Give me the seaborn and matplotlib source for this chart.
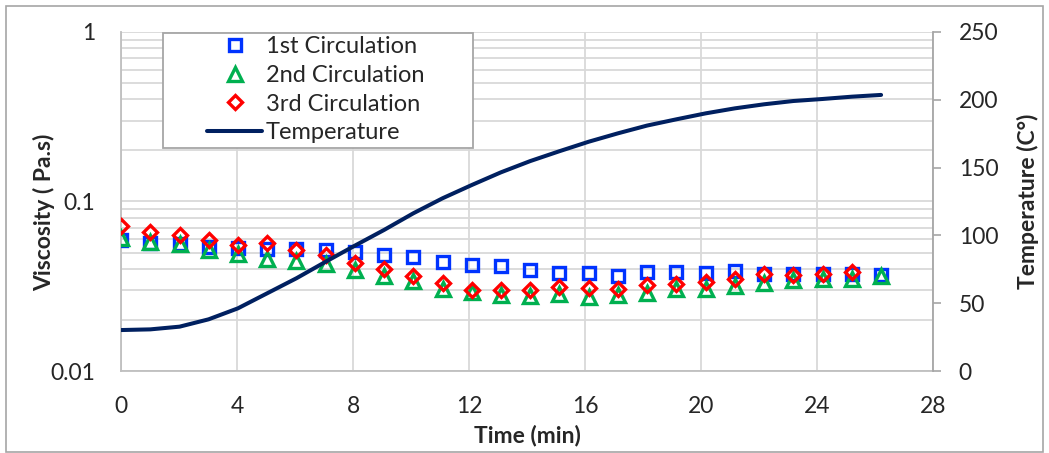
import matplotlib
matplotlib.use("Agg")
import matplotlib.pyplot as plt
from matplotlib.patches import Rectangle
from matplotlib.ticker import FixedLocator, FixedFormatter, LogLocator, NullFormatter
import seaborn as sns
import pandas as pd

# ---------------- data ----------------
time_min = [0.0, 1.01, 2.02, 3.02, 4.03, 5.04, 6.05, 7.06, 8.06, 9.07, 10.08,
            11.09, 12.1, 13.1, 14.11, 15.12, 16.13, 17.14, 18.14, 19.15, 20.16,
            21.17, 22.18, 23.18, 24.19, 25.2, 26.21]

visc_1st = [0.0595, 0.0566, 0.0560, 0.0537, 0.0531, 0.0527, 0.0524, 0.0517, 0.0503,
            0.0484, 0.0469, 0.0438, 0.0422, 0.0414, 0.0396, 0.0380, 0.0380, 0.0364,
            0.0385, 0.0385, 0.0380, 0.0389, 0.0376, 0.0371, 0.0371, 0.0371, 0.0366]
visc_2nd = [0.0606, 0.0575, 0.0560, 0.0519, 0.0490, 0.0457, 0.0443, 0.0426, 0.0397,
            0.0365, 0.0338, 0.0305, 0.0294, 0.0279, 0.0277, 0.0283, 0.0274, 0.0279,
            0.0290, 0.0303, 0.0306, 0.0317, 0.0329, 0.0344, 0.0347, 0.0347, 0.0363]
visc_3rd = [0.0719, 0.0664, 0.0637, 0.0596, 0.0554, 0.0571, 0.0520, 0.0486, 0.0432,
            0.0400, 0.0363, 0.0329, 0.0299, 0.0299, 0.0300, 0.0314, 0.0310, 0.0303,
            0.0320, 0.0324, 0.0336, 0.0350, 0.0371, 0.0366, 0.0376, 0.0383]
temperature = [30.2, 30.7, 32.7, 38.1, 46.2, 57.3, 68.4, 80.6, 92.4, 104.0, 116.3,
               127.4, 137.2, 146.5, 154.8, 162.1, 169.1, 175.3, 181.0, 185.6, 190.0,
               193.7, 196.7, 199.1, 200.6, 202.3, 203.6]

series_names = ["1st Circulation", "2nd Circulation", "3rd Circulation"]
temp_name = "Temperature"
x_ticks = [0, 4, 8, 12, 16, 20, 24, 28]
y_ticks = [0.01, 0.1, 1]
y_tick_labels = ["0.01", "0.1", "1"]
t_ticks = [0, 50, 100, 150, 200, 250]

# ---------------- style ----------------
sns.set_style("white")
plt.rcParams["font.family"] = ["Lato", "DejaVu Sans"]

W, H = 1049, 453
fig = plt.figure(figsize=(W / 100, H / 100), dpi=100)
L, R, T, B = 121, 933, 32, 371
ax = fig.add_axes([L / W, 1 - B / H, (R - L) / W, (B - T) / H])
ax.set_yscale("log")
ax.set_xlim(0, 28)
ax.set_ylim(0.01, 1)

grid_c = "#D9D9D9"
colors = ["#0033FF", "#00B050", "#FF0000"]
markers = ["s", "^", "D"]
msizes = [9.0, 9.5, 7.2]
values = [visc_1st, visc_2nd, visc_3rd]

handles = []
for name, vals, c, m, ms in zip(series_names, values, colors, markers, msizes):
    df = pd.DataFrame({"Time": time_min[:len(vals)], "Viscosity": vals})
    sns.lineplot(data=df, x="Time", y="Viscosity", ax=ax, estimator=None,
                 linestyle="", marker=m, markersize=ms, markerfacecolor="none",
                 markeredgecolor=c, markeredgewidth=2.4, color=c, legend=False)
    ln = ax.lines[-1]
    ln.set_label(name)
    ln.set_zorder(3)
    handles.append(ln)

ax2 = ax.twinx()
dft = pd.DataFrame({"Time": time_min, "Temperature": temperature})
sns.lineplot(data=dft, x="Time", y="Temperature", ax=ax2, estimator=None,
             color="#002060", linewidth=2.9, legend=False)
tl = ax2.lines[-1]
tl.set_label(temp_name)
handles.append(tl)
ax2.set_ylim(0, 250)
ax2.set_xlim(0, 28)

# grid
ax.yaxis.set_major_locator(FixedLocator(y_ticks))
ax.yaxis.set_major_formatter(FixedFormatter(y_tick_labels))
ax.yaxis.set_minor_locator(LogLocator(base=10, subs=[2, 3, 4, 5, 6, 7, 8, 9]))
ax.yaxis.set_minor_formatter(NullFormatter())
ax.set_xticks(x_ticks)
ax.grid(True, which="major", axis="both", color=grid_c, linewidth=1.3)
ax.grid(True, which="minor", axis="y", color=grid_c, linewidth=1.3)
ax.set_axisbelow(True)

fs = 16.5
ax.tick_params(axis="y", which="both", length=0, pad=18.5, labelsize=fs)
ax.tick_params(axis="x", which="both", length=0, pad=18, labelsize=fs)
ax2.set_yticks(t_ticks)
ax2.tick_params(axis="y", length=6, width=1.2, color="#A6A6A6", direction="out",
                pad=12.5, labelsize=fs)

for s in ["top"]:
    ax.spines[s].set_visible(False)
    ax2.spines[s].set_visible(False)
ax.spines["right"].set_visible(False)
ax.spines["left"].set_color("#BFBFBF")
ax.spines["bottom"].set_color("#BFBFBF")
ax.spines["left"].set_linewidth(1.3)
ax.spines["bottom"].set_linewidth(1.3)
ax2.spines["left"].set_visible(False)
ax2.spines["bottom"].set_visible(False)
ax2.spines["right"].set_color("#A6A6A6")
ax2.spines["right"].set_linewidth(1.3)

# labels
ax.set_xlabel("Time (min)", fontsize=fs, fontweight="bold")
ax.xaxis.label.set_va("center")
ax.xaxis.set_label_coords(0.5, (B - 435) / (B - T))
ax.set_ylabel("Viscosity ( Pa.s)", fontsize=fs, fontweight="bold")
ax.yaxis.label.set_va("center")
ax.yaxis.set_label_coords((44 - L) / (R - L), (B - 212) / (B - T))
ax2.set_ylabel("Temperature (C°)", fontsize=fs, fontweight="bold")
ax2.yaxis.label.set_va("center")
ax2.yaxis.set_label_coords((1028 - L) / (R - L), (B - 201) / (B - T))

# legend frame + legend
frame = Rectangle((163 / W, 1 - 148 / H), (473 - 163) / W, (148 - 33) / H,
                  transform=fig.transFigure, facecolor="white", edgecolor="#A6A6A6",
                  linewidth=1.3, zorder=4, clip_on=False)
ax2.add_patch(frame)
leg = ax2.legend(handles=handles, loc="upper left",
                 bbox_to_anchor=(207 / W, 1 - 36 / H), bbox_transform=fig.transFigure,
                 frameon=False, fontsize=17, borderpad=0, borderaxespad=0,
                 handlelength=2.33, handletextpad=0.15, labelspacing=0.33)
leg.set_zorder(5)

# outer border
fig.patches.append(Rectangle((6 / W, 1 - 451.5 / H), (1043 - 6) / W, (451.5 - 5.5) / H,
                             transform=fig.transFigure, fill=False,
                             edgecolor="#A6A6A6", linewidth=1.2))

fig.savefig("out.png", dpi=100)
